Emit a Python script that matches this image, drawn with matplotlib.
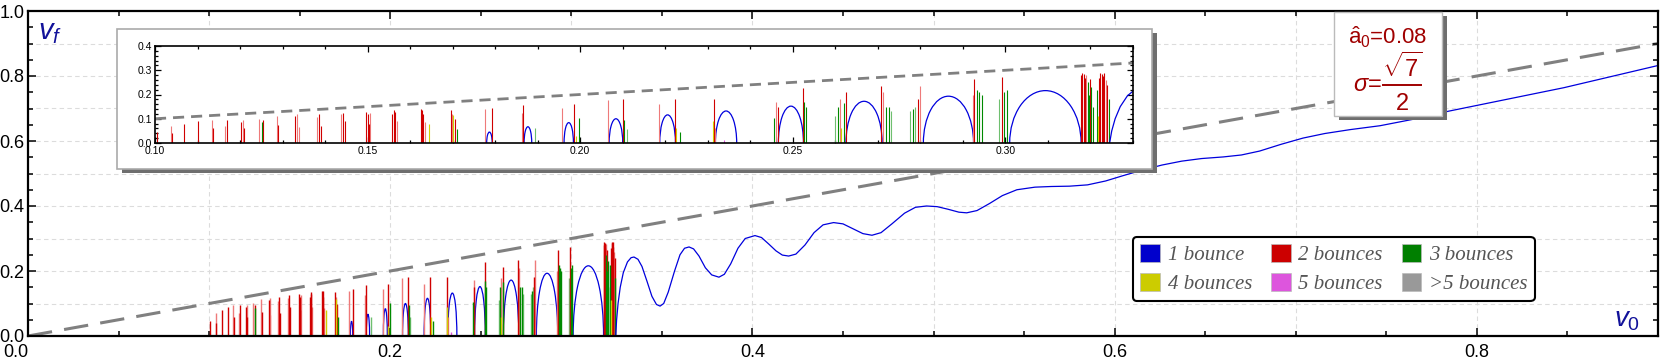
import matplotlib
matplotlib.use("Agg")
import matplotlib.pyplot as plt
from matplotlib.patches import Arc, Rectangle, Patch
from matplotlib.lines import Line2D
from matplotlib.ticker import MultipleLocator, FormatStrFormatter
import numpy as np

plt.rcParams["font.family"] = ["Liberation Sans", "DejaVu Sans"]
plt.rcParams["mathtext.fontset"] = "custom"
plt.rcParams["mathtext.rm"] = "Liberation Sans"
plt.rcParams["mathtext.it"] = "Liberation Sans:italic"

# ------------------------------------------------------------
# data
# ------------------------------------------------------------
# 2 bounces (dark red)
red_x = [0.1005, 0.1040, 0.1069, 0.1102, 0.1136, 0.1170, 0.1203, 0.1209, 0.1253,
         0.1290, 0.1330, 0.1386, 0.1390, 0.1442, 0.1446, 0.1496, 0.1500, 0.1503,
         0.1558, 0.1561, 0.1564, 0.1625, 0.1628, 0.1631, 0.1695, 0.1705, 0.1793,
         0.1866, 0.1986, 0.2100, 0.2222, 0.2315, 0.2465, 0.2523, 0.2625, 0.2708,
         0.2795, 0.2927, 0.2993, 0.3178, 0.3181, 0.3184, 0.3187, 0.3199, 0.3220,
         0.3223, 0.3226, 0.3229, 0.3232, 0.3240]
red_h = [0.047, 0.040, 0.080, 0.090, 0.060, 0.094, 0.088, 0.060, 0.095,
         0.075, 0.110, 0.120, 0.070, 0.125, 0.090, 0.128, 0.120, 0.080,
         0.120, 0.135, 0.128, 0.140, 0.138, 0.120, 0.135, 0.100, 0.145,
         0.158, 0.160, 0.182, 0.182, 0.182, 0.150, 0.228, 0.212, 0.233,
         0.183, 0.265, 0.274, 0.280, 0.289, 0.286, 0.270, 0.265, 0.270,
         0.289, 0.285, 0.275, 0.288, 0.240]
# 2 bounces (light red)
red_lt_x = [0.1038, 0.1134, 0.1165, 0.1207, 0.1245, 0.1286, 0.1334, 0.1338, 0.1382,
            0.1438, 0.1506, 0.1568, 0.1634, 0.1698, 0.1775, 0.1862, 0.1958, 0.2066,
            0.2186, 0.2318, 0.2461, 0.2612, 0.2712, 0.2800, 0.2923, 0.3190, 0.3236]
red_lt_h = [0.072, 0.095, 0.070, 0.096, 0.101, 0.113, 0.118, 0.065, 0.108,
            0.118, 0.125, 0.090, 0.085, 0.120, 0.140, 0.125, 0.145, 0.177,
            0.161, 0.060, 0.171, 0.180, 0.210, 0.235, 0.200, 0.282, 0.260]
# 3 bounces
green_x = [0.1251, 0.1710, 0.1998, 0.2104, 0.2235, 0.2455, 0.2526, 0.2530, 0.2607,
           0.2620, 0.2718, 0.2725, 0.2782, 0.2932, 0.2938, 0.2945, 0.2997, 0.3003,
           0.3193, 0.3196, 0.3202, 0.3205, 0.3215, 0.3243]
green_h = [0.085, 0.058, 0.103, 0.095, 0.045, 0.105, 0.170, 0.150, 0.150,
           0.165, 0.150, 0.150, 0.140, 0.218, 0.210, 0.200, 0.210, 0.220,
           0.250, 0.200, 0.230, 0.150, 0.220, 0.180]
green_lt_x = [0.1893, 0.2110, 0.2600, 0.2732, 0.2775, 0.2788, 0.2985]
green_lt_h = [0.060, 0.058, 0.110, 0.130, 0.130, 0.150, 0.180]
# 4 and 5 bounces
yellow_x = [0.1645, 0.1701, 0.1990, 0.2226, 0.2312, 0.2613, 0.3218]
yellow_h = [0.080, 0.115, 0.030, 0.060, 0.090, 0.060, 0.110]
magenta_x = [0.2338]
magenta_h = [0.012]

# 1 bounce: separate arches (start, end, top)
arch_start = [0.1780, 0.1868, 0.1962, 0.2068, 0.2187, 0.2318, 0.2466, 0.2625, 0.2807, 0.3010]
arch_end = [0.1793, 0.1886, 0.1984, 0.2100, 0.2224, 0.2368, 0.2525, 0.2710, 0.2925, 0.3178]
arch_top = [0.045, 0.067, 0.084, 0.100, 0.116, 0.132, 0.152, 0.172, 0.193, 0.216]

# 1 bounce: continuous branch
curve_x = [0.3245, 0.3250, 0.3258, 0.3270, 0.3287, 0.3310, 0.3330, 0.3346,
           0.3368, 0.3390, 0.3418, 0.3445, 0.3470, 0.3490,
           0.3510, 0.3535, 0.3570, 0.3600, 0.3625, 0.3650,
           0.3675, 0.3705, 0.3740, 0.3775, 0.3815,
           0.3845, 0.3880, 0.3920, 0.3960, 0.4014,
           0.4050, 0.4090, 0.4130, 0.4165, 0.4200,
           0.4240, 0.4290, 0.4340, 0.4390, 0.4448,
           0.4500, 0.4555, 0.4610, 0.4660,
           0.4710, 0.4770, 0.4840, 0.4900, 0.4961,
           0.5020, 0.5080, 0.5140, 0.5183,
           0.5240, 0.5310, 0.5380, 0.5460, 0.5560,
           0.5650, 0.5750, 0.5850, 0.5950, 0.6050, 0.6150, 0.6261, 0.6370,
           0.6480, 0.6600, 0.6700, 0.6800, 0.6920, 0.7040, 0.7160, 0.7300,
           0.7465, 0.7650, 0.7846, 0.8163, 0.8480, 0.9013]
curve_y = [0.000, 0.050, 0.100, 0.150, 0.195, 0.228, 0.241, 0.243,
           0.236, 0.214, 0.168, 0.122, 0.097, 0.092,
           0.100, 0.135, 0.200, 0.250, 0.270, 0.274,
           0.268, 0.246, 0.210, 0.188, 0.181,
           0.190, 0.222, 0.270, 0.300, 0.309,
           0.303, 0.283, 0.262, 0.249, 0.246,
           0.252, 0.280, 0.318, 0.342, 0.349,
           0.345, 0.330, 0.315, 0.310,
           0.318, 0.345, 0.378, 0.396, 0.400,
           0.398, 0.390, 0.381, 0.379,
           0.386, 0.408, 0.432, 0.450, 0.458,
           0.460, 0.461, 0.465, 0.477, 0.494, 0.510, 0.526, 0.538,
           0.546, 0.551, 0.557, 0.569, 0.590, 0.609, 0.623, 0.635,
           0.647, 0.667, 0.692, 0.728, 0.764, 0.834]

legend_labels = ["1 bounce", "2 bounces", "3 bounces",
                 "4 bounces", "5 bounces", ">5 bounces"]
legend_colors = ["#0000cc", "#cc0000", "#007f00", "#cccc00", "#dd55dd", "#999999"]

BLUE = "#0000dd"
DIAG = "#808080"
PARAM = "#a00000"


def draw_data(a, lw_spike, lw_curve):
    a.vlines(red_lt_x, 0, red_lt_h, color="#ee7a7a", lw=lw_spike)
    a.vlines(green_lt_x, 0, green_lt_h, color="#6fbf6f", lw=lw_spike)
    a.vlines(red_x, 0, red_h, color="#d00000", lw=lw_spike)
    a.vlines(green_x, 0, green_h, color="#008a00", lw=lw_spike)
    a.vlines(yellow_x, 0, yellow_h, color="#d0d000", lw=lw_spike)
    a.vlines(magenta_x, 0, magenta_h, color="#dd55dd", lw=lw_spike)
    for s, e, t in zip(arch_start, arch_end, arch_top):
        a.add_patch(Arc(((s + e) / 2, 0), e - s, 2 * t, theta1=0, theta2=180,
                        color=BLUE, lw=lw_curve))
    a.plot(curve_x, curve_y, color=BLUE, lw=lw_curve)


W, H = 1661, 360
fig = plt.figure(figsize=(W / 100, H / 100), dpi=100)

# ------------------------------------------------------------
# main axes
# ------------------------------------------------------------
ax = fig.add_axes([28 / W, 24 / H, 1630 / W, 325 / H])
ax.set_xlim(0, 0.9)
ax.set_ylim(0, 1.0)

for g in np.arange(0.1, 0.85, 0.1):
    ax.axvline(g, color="#dcdcdc", lw=0.8, dashes=(4, 3), zorder=0)
for g in np.arange(0.1, 0.95, 0.1):
    ax.axhline(g, color="#dcdcdc", lw=0.8, dashes=(4, 3), zorder=0)

ax.axline((0, 0), slope=1, color=DIAG, lw=2.2, dashes=(8, 4), zorder=1)
draw_data(ax, 1.0, 0.9)

ax.set_xticks([0.0, 0.2, 0.4, 0.6, 0.8])
ax.set_yticks([0.0, 0.2, 0.4, 0.6, 0.8, 1.0])
ax.xaxis.set_major_formatter(FormatStrFormatter("%.1f"))
ax.yaxis.set_major_formatter(FormatStrFormatter("%.1f"))
ax.xaxis.set_minor_locator(MultipleLocator(0.05))
ax.yaxis.set_minor_locator(MultipleLocator(0.05))
ax.tick_params(which="both", direction="in", top=True, right=True, width=1.1)
ax.tick_params(which="major", length=6, labelsize=13)
ax.tick_params(which="minor", length=3.5)
ax.tick_params(axis="x", which="major", pad=5.5)
ax.tick_params(axis="y", which="major", pad=2.5)
ax.get_xticklabels()[0].set_horizontalalignment("right")
ax.get_yticklabels()[0].set_verticalalignment("center_baseline")
for sp in ax.spines.values():
    sp.set_linewidth(1.6)

ax.text(0.0061, 0.935, r"$v_f$", transform=ax.transAxes, fontsize=21,
        color="#12129a", ha="left", va="center")
ax.text(0.981, 0.050, r"$v_0$", transform=ax.transAxes, fontsize=20,
        color="#12129a", ha="center", va="center")

# legend, filled row by row
order = [0, 3, 1, 4, 2, 5]
handles = [Patch(facecolor=legend_colors[i], edgecolor="#bbbbbb", lw=0.5) for i in order]
leg = ax.legend(handles, [legend_labels[i] for i in order], ncol=3,
                loc="upper left", bbox_to_anchor=(0.678, 0.305),
                borderaxespad=0, borderpad=0.35, fancybox=True,
                handlelength=0.95, handleheight=0.95, handletextpad=0.35,
                columnspacing=0.92, labelspacing=0.35, framealpha=1,
                prop={"family": "Liberation Serif", "style": "italic", "size": 15})
leg.get_frame().set_edgecolor("black")
leg.get_frame().set_linewidth(1.5)
for t in leg.get_texts():
    t.set_color("#555555")

# ------------------------------------------------------------
# parameter box
# ------------------------------------------------------------
fig.patches.append(Rectangle((1339 / W, (H - 120) / H), 108 / W, 104 / H,
                             transform=fig.transFigure, facecolor="#6e6e6e",
                             edgecolor="none", zorder=2))
fig.patches.append(Rectangle((1334 / W, (H - 116) / H), 108 / W, 104 / H,
                             transform=fig.transFigure, facecolor="white",
                             edgecolor="#bbbbbb", lw=1, zorder=2))
fig.text(1388 / W, (H - 37) / H, r"$\hat{\mathrm{a}}_0$=0.08", fontsize=16,
         color=PARAM, ha="center", va="center", zorder=3)
fig.text(1382 / W, (H - 85) / H, r"$\sigma$=", fontsize=17,
         color=PARAM, ha="right", va="center", zorder=3)
fig.lines.append(Line2D([1383 / W, 1421 / W], [(H - 85) / H, (H - 85) / H],
                        transform=fig.transFigure, color=PARAM, lw=1.4, zorder=3))
fig.text(1402 / W, (H - 67) / H, r"$\sqrt{7}$", fontsize=17,
         color=PARAM, ha="center", va="center", zorder=3)
fig.text(1402 / W, (H - 104) / H, "2", fontsize=17,
         color=PARAM, ha="center", va="center", zorder=3)

# ------------------------------------------------------------
# inset
# ------------------------------------------------------------
fig.patches.append(Rectangle((122 / W, (H - 173) / H), 1035 / W, 140 / H,
                             transform=fig.transFigure, facecolor="#6e6e6e",
                             edgecolor="none", zorder=2))
fig.patches.append(Rectangle((117 / W, (H - 169) / H), 1035 / W, 140 / H,
                             transform=fig.transFigure, facecolor="white",
                             edgecolor="#aaaaaa", lw=1.2, zorder=2))

axi = fig.add_axes([155 / W, 217 / H, 978 / W, 97 / H], zorder=3)
axi.set_xlim(0.10, 0.33)
axi.set_ylim(0, 0.4)
axi.axline((0, 0), slope=1, color=DIAG, lw=2.0, dashes=(4, 2.5))
draw_data(axi, 0.8, 0.9)
axi.xaxis.set_major_locator(MultipleLocator(0.05))
axi.xaxis.set_minor_locator(MultipleLocator(0.01))
axi.yaxis.set_major_locator(MultipleLocator(0.1))
axi.yaxis.set_minor_locator(MultipleLocator(0.02))
axi.xaxis.set_major_formatter(FormatStrFormatter("%.2f"))
axi.yaxis.set_major_formatter(FormatStrFormatter("%.1f"))
axi.tick_params(which="both", direction="in", top=True, right=True, width=0.9)
axi.tick_params(which="major", length=4, labelsize=7.5, pad=2)
axi.tick_params(which="minor", length=2.2)
for sp in axi.spines.values():
    sp.set_linewidth(1.2)

fig.savefig("out.png", dpi=100)
